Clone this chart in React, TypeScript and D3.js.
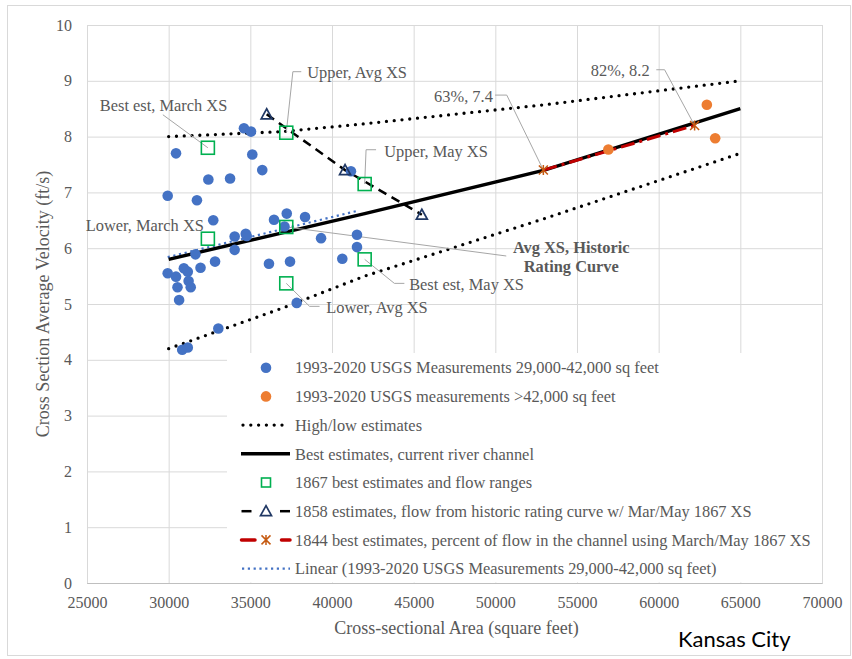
import React, { useEffect, useRef, useCallback } from "react";
import * as d3 from "d3";

// 1993-2020 USGS measurements, 29,000-42,000 sq ft
const usgsArea = [
  34610, 35040, 30450, 35120, 35730, 32430, 33760, 29940, 31730, 41160,
  32730, 37230, 36450, 38350, 37090, 34040, 34720, 34780, 39330, 41530,
  41530, 34040, 31640, 36140, 37430, 40630, 32840, 29940, 30450, 30930,
  31170, 31950, 30540, 31220, 31350, 30640, 37840, 33040, 30830, 31170,
];
const usgsVel = [
  8.15, 8.09, 7.7, 7.68, 7.4, 7.23, 7.25, 6.94, 6.86, 7.38,
  6.5, 6.62, 6.51, 6.56, 6.39, 6.21, 6.26, 6.22, 6.18, 6.24,
  6.02, 5.97, 5.89, 5.72, 5.76, 5.81, 5.76, 5.55, 5.49, 5.64,
  5.58, 5.65, 5.3, 5.41, 5.3, 5.07, 5.02, 4.56, 4.18, 4.22,
];

// 1993-2020 USGS measurements > 42,000 sq ft
const bigArea = [56920, 62950, 63460];
const bigVel = [7.77, 8.57, 7.97];

// high / low estimates
const boundArea = [30000, 37000, 42000, 53000, 65000];
const highVel = [8.0, 8.09, 8.23, 8.57, 9.0];
const lowVel = [4.2, 4.93, 5.5, 6.53, 7.7];

// best estimates, current channel
const bestArea = [30000, 42000, 53000, 65000];
const bestVel = [5.8, 6.62, 7.4, 8.5];

// 1867 estimates
const est1867Area = [32400, 32400, 37200, 37200, 37200, 42000, 42000];
const est1867Vel = [7.8, 6.17, 8.07, 6.38, 5.37, 7.15, 5.8];
const est1867Labels = [
  "Best est, March XS",
  "Lower, March XS",
  "Upper, Avg XS",
  "Avg XS, Historic Rating Curve",
  "Lower, Avg XS",
  "Upper, May XS",
  "Best est, May XS",
];

// 1858 estimates
const est1858Area = [36000, 40800, 45500];
const est1858Vel = [8.4, 7.4, 6.6];

// 1844 estimates
const est1844Area = [52940, 62200];
const est1844Vel = [7.4, 8.2];
const est1844Labels = ["63%, 7.4", "82%, 8.2"];

// linear trend of the 29,000-42,000 measurements
const trendArea = [29940, 41550];
const trendVel = [5.84, 6.67];

const xTicks = [25000, 30000, 35000, 40000, 45000, 50000, 55000, 60000, 65000, 70000];
const yTicks = [0, 1, 2, 3, 4, 5, 6, 7, 8, 9, 10];

const legendLabels = [
  "1993-2020 USGS Measurements 29,000-42,000 sq feet",
  "1993-2020 USGS measurements >42,000 sq feet",
  "High/low estimates",
  "Best estimates, current river channel",
  "1867 best estimates and flow ranges",
  "1858 estimates, flow from historic rating curve w/ Mar/May 1867 XS",
  "1844 best estimates, percent of flow in the channel using March/May 1867 XS",
  "Linear (1993-2020 USGS Measurements 29,000-42,000 sq feet)",
];

const SERIF = "'Liberation Serif', 'Times New Roman', serif";
const GRAY = "#595959";
const LEADER = "#a6a6a6";
const LABEL_SIZE = 16.4;

// callout placement, pixel offsets from the labelled point
const callouts: Record<string, { pts: number[][]; dx: number; dy: number[]; anchor: string; bold?: boolean; lines?: string[] }> = {
  "Best est, March XS": { pts: [[-45, -33]], dx: -108, dy: [-43], anchor: "start" },
  "Lower, March XS": { pts: [], dx: -4, dy: [-13], anchor: "end" },
  "Upper, Avg XS": { pts: [[6.6, -61], [15, -61]], dx: 21, dy: [-60], anchor: "start" },
  "Avg XS, Historic Rating Curve": {
    pts: [[220, 29]], dx: 285, dy: [20, 39], anchor: "middle", bold: true,
    lines: ["Avg XS, Historic", "Rating Curve"],
  },
  "Lower, Avg XS": { pts: [[23.3, 23], [33.3, 23]], dx: 40, dy: [24], anchor: "start" },
  "Upper, May XS": { pts: [[1.4, -34.3], [11.4, -34.3]], dx: 19.5, dy: [-33], anchor: "start" },
  "Best est, May XS": { pts: [[29.7, 24], [39.7, 24]], dx: 44.5, dy: [24.5], anchor: "start" },
  "63%, 7.4": { pts: [[-36.6, -75], [-48.3, -75]], dx: -50.5, dy: [-74], anchor: "end" },
  "82%, 8.2": { pts: [[-30, -55.7], [-38.3, -55.7]], dx: -45, dy: [-55], anchor: "end" },
};

const W = 852;
const H = 659;
const margin = { left: 87, right: 822, top: 25, bottom: 583 };

type Sel = d3.Selection<SVGGElement, unknown, null, undefined>;

const drawSquare = (g: Sel, cx: number, cy: number, s: number) =>
  g.append("rect").attr("x", cx - s / 2).attr("y", cy - s / 2).attr("width", s).attr("height", s)
    .attr("fill", "none").attr("stroke", "#00b050").attr("stroke-width", 1.6);

const drawTriangle = (g: Sel, cx: number, cy: number) =>
  g.append("path")
    .attr("d", `M${cx},${cy - 5.5}L${cx + 5.5},${cy + 4.5}L${cx - 5.5},${cy + 4.5}Z`)
    .attr("fill", "none").attr("stroke", "#203864").attr("stroke-width", 1.7);

const drawStar = (g: Sel, cx: number, cy: number) =>
  g.append("path")
    .attr("d", `M${cx - 4.5},${cy - 4.5}L${cx + 4.5},${cy + 4.5}M${cx - 4.5},${cy + 4.5}L${cx + 4.5},${cy - 4.5}M${cx},${cy - 5}L${cx},${cy + 5}`)
    .attr("stroke", "#c55a11").attr("stroke-width", 1.5).attr("fill", "none");

const VelocityChart = () => {
  const svgRef = useRef<SVGSVGElement | null>(null);

  const draw = useCallback((node: SVGSVGElement) => {
    const svg = d3.select(node);
    svg.selectAll("*").remove();
    const root = svg.append("g") as unknown as Sel;

    const x = d3.scaleLinear().domain([25000, 70000]).range([margin.left, margin.right]);
    const y = d3.scaleLinear().domain([0, 10]).range([margin.bottom, margin.top]);
    const line = d3.line<[number, number]>().x((d) => x(d[0])).y((d) => y(d[1]));
    const pairs = (a: number[], b: number[]) => a.map((v, i) => [v, b[i]] as [number, number]);

    // chart border
    root.append("rect").attr("x", 7.5).attr("y", 5.5).attr("width", 843).attr("height", 650)
      .attr("fill", "#fff").attr("stroke", "#d9d9d9");

    // y grid + labels
    root.append("g")
      .attr("transform", `translate(${margin.left},0)`)
      .call(d3.axisLeft(y).tickValues(yTicks).tickSize(-(margin.right - margin.left)).tickPadding(15).tickFormat((d) => String(d)))
      .call((g) => g.select(".domain").remove())
      .call((g) => g.selectAll(".tick line").attr("stroke", "#d9d9d9"))
      .call((g) => g.selectAll(".tick text").attr("font-family", SERIF).attr("font-size", 16).attr("fill", GRAY));

    // x grid + labels
    root.append("g")
      .attr("transform", `translate(0,${margin.bottom})`)
      .call(d3.axisBottom(x).tickValues(xTicks).tickSize(-(margin.bottom - margin.top)).tickPadding(14).tickFormat((d) => String(d)))
      .call((g) => g.select(".domain").attr("stroke", "#bfbfbf"))
      .call((g) => g.selectAll(".tick line").attr("stroke", "#d9d9d9"))
      .call((g) => g.selectAll(".tick text").attr("font-family", SERIF).attr("font-size", 16).attr("fill", GRAY));

    // axis titles
    root.append("text").attr("x", (margin.left + margin.right) / 2 + 2).attr("y", 634)
      .attr("text-anchor", "middle").attr("font-family", SERIF).attr("font-size", 18).attr("fill", GRAY)
      .text("Cross-sectional Area (square feet)");
    root.append("text").attr("transform", `translate(49,${(margin.top + margin.bottom) / 2}) rotate(-90)`)
      .attr("text-anchor", "middle").attr("font-family", SERIF).attr("font-size", 18).attr("fill", GRAY)
      .text("Cross Section Average Velocity (ft/s)");

    root.append("text").attr("x", 678).attr("y", 647)
      .attr("font-family", "Lato, 'Open Sans', sans-serif").attr("font-size", 22).attr("fill", "#000")
      .text("Kansas City");

    // lines
    const dotted = { w: 3.3, dash: "0 7.8" };
    [highVel, lowVel].forEach((vel) =>
      root.append("path").attr("d", line(pairs(boundArea, vel))).attr("fill", "none")
        .attr("stroke", "#000").attr("stroke-width", dotted.w).attr("stroke-dasharray", dotted.dash)
        .attr("stroke-linecap", "round"));

    root.append("path").attr("d", line(pairs(trendArea, trendVel))).attr("fill", "none")
      .attr("stroke", "#4472c4").attr("stroke-width", 2.2).attr("stroke-dasharray", "2.2 3.6");

    root.append("path").attr("d", line(pairs(bestArea, bestVel))).attr("fill", "none")
      .attr("stroke", "#000").attr("stroke-width", 3.4);

    root.append("path").attr("d", line(pairs(est1858Area, est1858Vel))).attr("fill", "none")
      .attr("stroke", "#000").attr("stroke-width", 2.5).attr("stroke-dasharray", "9 6");

    root.append("path").attr("d", line(pairs(est1844Area, est1844Vel))).attr("fill", "none")
      .attr("stroke", "#c00000").attr("stroke-width", 3).attr("stroke-dasharray", "14 5 3 5");

    // callout leaders
    const calloutPoints = [
      ...est1867Labels.map((t, i) => ({ t, px: x(est1867Area[i]), py: y(est1867Vel[i]) })),
      ...est1844Labels.map((t, i) => ({ t, px: x(est1844Area[i]), py: y(est1844Vel[i]) })),
    ];
    calloutPoints.forEach(({ t, px, py }) => {
      const c = callouts[t];
      if (!c || c.pts.length === 0) return;
      const pts = [[px, py], ...c.pts.map(([dx, dy]) => [px + dx, py + dy])];
      root.append("path").attr("d", "M" + pts.map((p) => p.join(",")).join("L"))
        .attr("fill", "none").attr("stroke", LEADER).attr("stroke-width", 1);
    });

    // markers
    root.append("g").selectAll("circle").data(pairs(usgsArea, usgsVel)).join("circle")
      .attr("cx", (d) => x(d[0])).attr("cy", (d) => y(d[1])).attr("r", 5.3).attr("fill", "#4472c4");
    root.append("g").selectAll("circle").data(pairs(bigArea, bigVel)).join("circle")
      .attr("cx", (d) => x(d[0])).attr("cy", (d) => y(d[1])).attr("r", 5.3).attr("fill", "#ed7d31");
    est1867Area.forEach((a, i) => drawSquare(root, x(a), y(est1867Vel[i]), 13));
    est1858Area.forEach((a, i) => drawTriangle(root, x(a), y(est1858Vel[i])));
    est1844Area.forEach((a, i) => drawStar(root, x(a), y(est1844Vel[i])));

    // callout texts
    calloutPoints.forEach(({ t, px, py }) => {
      const c = callouts[t];
      if (!c) return;
      const lines = c.lines || [t];
      lines.forEach((ln, k) => {
        root.append("text").attr("x", px + c.dx).attr("y", py + c.dy[k]).attr("dy", "0.35em")
          .attr("text-anchor", c.anchor).attr("font-family", SERIF).attr("font-size", LABEL_SIZE)
          .attr("font-weight", c.bold ? "bold" : "normal").attr("fill", GRAY).text(ln);
      });
    });

    // legend
    const lg = root.append("g") as unknown as Sel;
    lg.append("rect").attr("x", 227).attr("y", 353).attr("width", margin.right - 227).attr("height", margin.bottom - 353 - 0.5)
      .attr("fill", "#fff");
    const sx = 266;
    legendLabels.forEach((label, i) => {
      const cy = 367.7 + i * 28.7;
      if (i === 0 || i === 1) {
        lg.append("circle").attr("cx", sx).attr("cy", cy).attr("r", 5.3).attr("fill", i === 0 ? "#4472c4" : "#ed7d31");
      } else if (i === 2) {
        lg.append("line").attr("x1", 243).attr("x2", 289).attr("y1", cy).attr("y2", cy).attr("stroke", "#000")
          .attr("stroke-width", dotted.w).attr("stroke-dasharray", dotted.dash).attr("stroke-linecap", "round");
      } else if (i === 3) {
        lg.append("line").attr("x1", 241).attr("x2", 290).attr("y1", cy).attr("y2", cy).attr("stroke", "#000").attr("stroke-width", 3.4);
      } else if (i === 4) {
        drawSquare(lg, sx, cy, 9);
      } else if (i === 5) {
        [[241.5, 251.5], [280, 290]].forEach(([a, b]) =>
          lg.append("line").attr("x1", a).attr("x2", b).attr("y1", cy).attr("y2", cy).attr("stroke", "#000").attr("stroke-width", 2.5));
        drawTriangle(lg, sx, cy);
      } else if (i === 6) {
        [[241.5, 255], [281.5, 290]].forEach(([a, b]) =>
          lg.append("line").attr("x1", a).attr("x2", b).attr("y1", cy).attr("y2", cy).attr("stroke", "#c00000").attr("stroke-width", 3.5).attr("stroke-linecap", "round"));
        drawStar(lg, sx, cy);
      } else {
        lg.append("line").attr("x1", 242).attr("x2", 290).attr("y1", cy).attr("y2", cy).attr("stroke", "#4472c4")
          .attr("stroke-width", 2.2).attr("stroke-dasharray", "2.2 3.6");
      }
      lg.append("text").attr("x", 295).attr("y", cy).attr("dy", "0.35em")
        .attr("font-family", SERIF).attr("font-size", LABEL_SIZE).attr("fill", GRAY).text(label);
    });
  }, []);

  useEffect(() => {
    if (svgRef.current) draw(svgRef.current);
  }, [draw]);

  return <svg ref={svgRef} width={W} height={H} style={{ position: "absolute", left: 0, top: 0 }} />;
};

export default function App() {
  return (
    <div>
      <VelocityChart />
    </div>
  );
}
